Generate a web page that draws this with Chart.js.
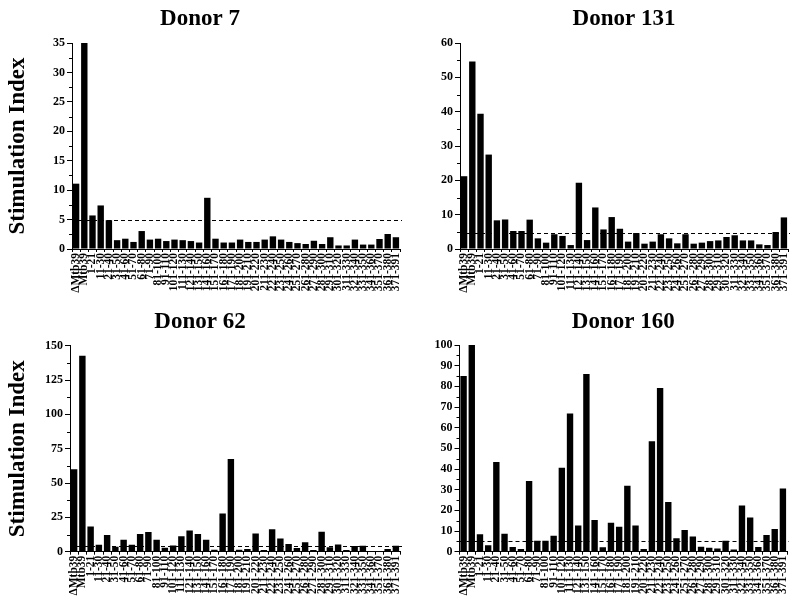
<!DOCTYPE html>
<html><head><meta charset="utf-8">
<script src="https://cdn.jsdelivr.net/npm/chart.js@4"></script>
<style>
html,body{margin:0;padding:0;background:#fff;}
body{width:800px;height:608px;position:relative;overflow:hidden;}
canvas{position:absolute;}
</style></head><body>
<canvas id="c0" width="456" height="300" style="left:0;top:0"></canvas>
<canvas id="c1" width="380" height="300" style="left:420px;top:0"></canvas>
<canvas id="c2" width="456" height="308" style="left:0;top:300px"></canvas>
<canvas id="c3" width="380" height="308" style="left:420px;top:300px"></canvas>
<script>
const categories = ['ΔMtb39','Mtb39','1-21','11-30','21-40','31-50','41-60','51-70','61-80','71-90',
  '81-100','91-110','101-120','111-130','121-140','131-150','141-160','151-170','161-180','171-190',
  '181-200','191-210','201-220','211-230','221-240','231-250','241-260','251-270','261-280','271-290',
  '281-300','291-310','301-320','311-330','321-340','331-350','341-360','351-370','361-380','371-391'];

const donor7 = [11.1,35,5.7,7.4,4.9,1.5,1.75,1.2,3.05,1.6,
  1.75,1.35,1.6,1.5,1.35,1.1,8.7,1.75,1.1,1.1,
  1.6,1.2,1.2,1.6,2.15,1.6,1.2,1.0,0.85,1.4,
  0.85,2.0,0.6,0.6,1.6,0.75,0.75,1.7,2.55,2.0];
const donor131 = [21.2,54.6,39.4,27.5,8.35,8.6,5.25,5.25,8.55,3.1,
  1.85,4.3,3.8,1.15,19.3,2.6,12.1,5.7,9.3,5.9,
  2.15,4.65,1.55,2.15,4.3,3.1,1.65,4.3,1.55,1.85,
  2.3,2.5,3.5,4.0,2.5,2.5,1.35,1.15,4.95,9.2];
const donor62 = [60,142.7,18.4,5.1,12.1,3.6,8.7,5.1,12.9,14.3,
  8.7,2.9,4.6,11.2,15.5,12.9,8.7,1.5,27.9,67.5,
  1.5,1.9,13.3,1.2,16.3,9.7,5.6,2.7,6.8,1.2,
  14.6,3.2,5.3,1.2,4.1,4.4,0.5,0.5,1.9,4.4];
const donor160 = [85,100,8.4,3.1,43.4,8.7,2.3,1.3,34.2,5.3,
  5.3,7.7,40.6,66.9,12.7,86,15.3,2.1,14.0,12.1,
  31.9,12.7,1.3,53.4,79.2,24,6.5,10.5,7.3,2.4,
  1.9,1.6,5.3,1.1,22.3,16.5,2.3,8.1,11,30.6];

const donorTitles = ['Donor 7','Donor 131','Donor 62','Donor 160'];
const yMaxima = [35,60,150,100];
const yMajorSteps = [5,10,25,10];
const yMinorSteps = [2.5,5,12.5,5];
const thresholds = [5,4.7,4.4,5.3];
const yAxisTitle = 'Stimulation Index';

const FONT = "'Liberation Serif', 'Times New Roman', serif";

const refPlugin = {
  id: 'refline',
  afterDatasetsDraw(chart, args, opts) {
    const ctx = chart.ctx, a = chart.chartArea, y = chart.scales.y;
    ctx.save();
    ctx.strokeStyle = '#000';
    ctx.lineWidth = 1;
    // minor ticks
    const n = Math.round(y.max / opts.minor);
    const ratio = Math.round(opts.major / opts.minor);
    ctx.beginPath();
    for (let i = 1; i < n; i++) {
      if (i % ratio === 0) continue;
      const py = Math.round(y.getPixelForValue(i * opts.minor)) + 0.5;
      ctx.moveTo(a.left - 3, py);
      ctx.lineTo(a.left, py);
    }
    ctx.stroke();
    // dashed threshold line
    const py = Math.round(y.getPixelForValue(opts.value)) + 0.5;
    ctx.setLineDash([4, 3]);
    ctx.beginPath();
    ctx.moveTo(a.left, py);
    ctx.lineTo(a.right + 2, py);
    ctx.stroke();
    ctx.restore();
  }
};

const layoutSpec = [
  {yWidth: 72, xHeight: 51, padRight: 56, fullTitle: true, tTop: 5, tBottom: 10.4, yTitle: true},
  {yWidth: 40, xHeight: 51, padRight: 12, fullTitle: false, tTop: 5, tBottom: 10.4, yTitle: false},
  {yWidth: 70, xHeight: 56.3, padRight: 56, fullTitle: true, tTop: 8, tBottom: 10.1, yTitle: true},
  {yWidth: 39.5, xHeight: 56.3, padRight: 13, fullTitle: false, tTop: 8, tBottom: 9.4, yTitle: false}
];
const seriesList = [donor7, donor131, donor62, donor160];

seriesList.forEach((vals, k) => {
  const L = layoutSpec[k];
  new Chart(document.getElementById('c' + k), {
    type: 'bar',
    data: {
      labels: categories,
      datasets: [{
        data: vals,
        backgroundColor: '#000',
        borderWidth: 0,
        barPercentage: 0.78,
        categoryPercentage: 1.0
      }]
    },
    options: {
      responsive: false,
      animation: false,
      layout: {padding: {left: 0, right: L.padRight, top: 0, bottom: 0}},
      plugins: {
        legend: {display: false},
        tooltip: {enabled: false},
        title: {
          display: true,
          text: donorTitles[k],
          fullSize: L.fullTitle,
          color: '#000',
          font: {family: FONT, size: 23, weight: 'bold'},
          padding: {top: L.tTop, bottom: L.tBottom}
        },
        refline: {value: thresholds[k], minor: yMinorSteps[k], major: yMajorSteps[k]}
      },
      scales: {
        x: {
          type: 'category',
          afterFit(scale) { scale.height = L.xHeight; },
          border: {display: true, color: '#000', width: 1},
          grid: {display: true, drawOnChartArea: false, tickLength: 3, color: '#000'},
          ticks: {
            autoSkip: false, maxRotation: 90, minRotation: 90,
            color: '#000', padding: 1,
            font: {family: FONT, size: 11.5, weight: 'bold'}
          }
        },
        y: {
          min: 0, max: yMaxima[k],
          afterFit(scale) { scale.width = L.yWidth; },
          border: {display: true, color: '#000', width: 1},
          grid: {display: true, drawOnChartArea: false, tickLength: 5, color: '#000'},
          ticks: {
            stepSize: yMajorSteps[k], color: '#000', padding: 2,
            font: {family: FONT, size: 12, weight: 'bold'}
          },
          title: {
            display: L.yTitle,
            text: yAxisTitle,
            color: '#000',
            font: {family: FONT, size: 23, weight: 'bold'},
            padding: {top: 4, bottom: 0}
          }
        }
      }
    },
    plugins: [refPlugin]
  });
});
</script>
</body></html>
